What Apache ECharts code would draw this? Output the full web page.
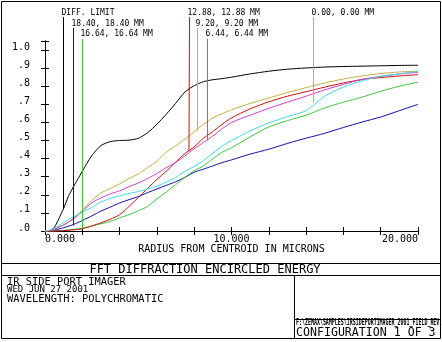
<!DOCTYPE html>
<html><head><meta charset="utf-8">
<script src="https://cdn.jsdelivr.net/npm/echarts@6/dist/echarts.min.js"></script>
<style>html,body{margin:0;padding:0;background:#fff}#c{width:442px;height:342px}</style>
</head><body><div id="c"></div>
<script>
const radius = [0, 0.25, 0.5, 0.75, 1, 1.25, 1.5, 1.75, 2, 2.5, 3, 3.5, 4, 4.5, 5, 5.5, 6, 6.5, 7, 7.5, 8, 8.5, 9, 9.5, 10, 11, 12, 13, 14, 15, 16, 17, 18, 19, 20];
const diffLimit = [0, 0.002, 0.02, 0.07, 0.125, 0.19, 0.24, 0.285, 0.33, 0.415, 0.472, 0.494, 0.5, 0.502, 0.512, 0.543, 0.59, 0.645, 0.705, 0.768, 0.803, 0.825, 0.836, 0.842, 0.85, 0.868, 0.883, 0.894, 0.901, 0.906, 0.909, 0.911, 0.913, 0.915, 0.916];
const field1840 = [0, 0.001, 0.005, 0.011, 0.018, 0.026, 0.035, 0.046, 0.058, 0.083, 0.11, 0.132, 0.155, 0.173, 0.19, 0.212, 0.232, 0.252, 0.272, 0.296, 0.325, 0.342, 0.36, 0.378, 0.393, 0.425, 0.452, 0.484, 0.513, 0.54, 0.572, 0.602, 0.63, 0.665, 0.70];
const field1664 = [0, 0, 0.001, 0.002, 0.004, 0.006, 0.009, 0.012, 0.015, 0.027, 0.04, 0.053, 0.073, 0.09, 0.112, 0.135, 0.178, 0.215, 0.256, 0.297, 0.333, 0.36, 0.4, 0.435, 0.46, 0.52, 0.575, 0.61, 0.64, 0.68, 0.712, 0.74, 0.772, 0.8, 0.822];
const field1288 = [0, 0, 0, 0.001, 0.002, 0.004, 0.006, 0.009, 0.012, 0.028, 0.045, 0.065, 0.09, 0.135, 0.185, 0.235, 0.285, 0.33, 0.38, 0.428, 0.465, 0.513, 0.55, 0.59, 0.625, 0.675, 0.714, 0.745, 0.77, 0.795, 0.818, 0.837, 0.848, 0.857, 0.864];
const field920 = [0, 0.003, 0.01, 0.02, 0.035, 0.05, 0.07, 0.09, 0.115, 0.168, 0.21, 0.235, 0.26, 0.29, 0.315, 0.35, 0.385, 0.435, 0.47, 0.508, 0.548, 0.59, 0.625, 0.648, 0.67, 0.705, 0.735, 0.765, 0.792, 0.818, 0.84, 0.857, 0.87, 0.879, 0.883];
const field644 = [0, 0.003, 0.01, 0.022, 0.033, 0.048, 0.065, 0.085, 0.11, 0.155, 0.183, 0.205, 0.222, 0.245, 0.265, 0.29, 0.318, 0.35, 0.378, 0.415, 0.455, 0.49, 0.525, 0.565, 0.6, 0.64, 0.678, 0.712, 0.745, 0.78, 0.81, 0.838, 0.855, 0.868, 0.877];
const field000 = [0, 0.005, 0.015, 0.03, 0.047, 0.063, 0.077, 0.09, 0.104, 0.13, 0.16, 0.18, 0.194, 0.207, 0.218, 0.232, 0.248, 0.27, 0.295, 0.33, 0.357, 0.39, 0.43, 0.47, 0.5, 0.553, 0.597, 0.632, 0.665, 0.745, 0.795, 0.83, 0.855, 0.868, 0.883];

const seriesNames = ['DIFF. LIMIT', '18.40, 18.40 MM', '16.64, 16.64 MM', '12.88, 12.88 MM', '9.20, 9.20 MM', '6.44, 6.44 MM', '0.00, 0.00 MM'];
const seriesValues = [diffLimit, field1840, field1664, field1288, field920, field644, field000];
const seriesColors = ['#000000', '#1010a8', '#3cc83c', '#cc1010', '#c4b040', '#cc40cc', '#40dcdc'];
const markerRadius = [0.98, 1.52, 2.0, 7.72, 8.17, 8.70, 14.39];
const markerValue = [0.12, 0.03, 0.015, 0.44, 0.555, 0.5, 0.71];
const markerRow = [0, 1, 2, 0, 1, 2, 0];

const xTickLabels = {0: '0.000', 10: '10.000', 20: '20.000'};
const titleText = 'FFT DIFFRACTION ENCIRCLED ENERGY';
const infoLines = ['IR SIDE PORT IMAGER', 'WED JUN 27 2001', 'WAVELENGTH: POLYCHROMATIC'];
const fileText = 'F:\\ZEMAX\\SAMPLES\\IRSIDEPORTIMAGER_2001_FIELD_REV.ZMX';
const configText = 'CONFIGURATION 1 OF 3';

const FONT = 'DejaVu Sans Mono';
const chart = echarts.init(document.getElementById('c'), null, {renderer: 'canvas'});

const axisCommon = {
  axisLine: {show: true, lineStyle: {color: '#000', width: 1}},
  axisTick: {show: true, inside: true, length: 4, lineStyle: {color: '#000', width: 1}},
  splitLine: {show: false}
};

const rowTextY = [12.5, 23.5, 33.5];
const rowLineTop = [17, 28, 39];

function buildSeries(markerPx) {
  return seriesValues.map((vals, i) => ({
    name: seriesNames[i],
    type: 'line',
    data: radius.map((r, k) => [r, vals[k]]),
    showSymbol: false,
    smooth: 0.25,
    clip: false,
    lineStyle: {color: seriesColors[i], width: 1},
    itemStyle: {color: seriesColors[i]},
    emphasis: {disabled: true},
    markLine: markerPx ? {
      silent: true, symbol: ['none', 'none'], animation: false,
      label: {show: false},
      emphasis: {disabled: true},
      lineStyle: {color: seriesColors[i], width: 1, type: 'solid', opacity: 1},
      data: [[
        {coord: [markerRadius[i], markerValue[i]]},
        {x: markerPx[i], y: rowLineTop[markerRow[i]]}
      ]]
    } : undefined
  }));
}

chart.setOption({
  animation: false,
  backgroundColor: '#fff',
  grid: {left: 45, right: 24, top: 41, bottom: 111, containLabel: false, outerBoundsMode: 'none', show: false},
  xAxis: [
    Object.assign({}, axisCommon, {
      type: 'value', position: 'bottom', min: 0, max: 20, interval: 2,
      name: 'RADIUS FROM CENTROID IN MICRONS', nameLocation: 'middle', nameGap: 13, nameMoveOverlap: false,
      nameTextStyle: {fontFamily: FONT, fontSize: 10, color: '#000', lineHeight: 10, verticalAlign: 'top'},
      axisLabel: {
        show: true, margin: 3, fontFamily: FONT, fontSize: 10, lineHeight: 10, color: '#000',
        alignMinLabel: 'left', alignMaxLabel: 'right',
        showMinLabel: true, showMaxLabel: true,
        formatter: v => (xTickLabels[Math.round(v)] !== undefined && Math.abs(v - Math.round(v)) < 1e-6) ? xTickLabels[Math.round(v)] : ''
      }
    }),
    Object.assign({}, axisCommon, {
      type: 'value', position: 'top', min: 0, max: 20, interval: 2,
      axisLabel: {show: false}
    })
  ],
  yAxis: [
    Object.assign({}, axisCommon, {
      type: 'value', position: 'left', min: 0, max: 1.05, interval: 0.1,
      name: 'FRACTION OF ENCLOSED ENERGY', nameLocation: 'middle', nameGap: 33, nameRotate: 90,
      nameTextStyle: {fontFamily: FONT, fontSize: 10, color: '#000'},
      axisLabel: {
        show: true, margin: 15, fontFamily: FONT, fontSize: 10, color: '#000',
        verticalAlign: 'bottom', lineHeight: 6,
        formatter: v => v > 1.001 ? '' : (v >= 0.999 ? '1.0' : '.' + Math.round(v * 10))
      }
    }),
    Object.assign({}, axisCommon, {
      type: 'value', position: 'right', min: 0, max: 1.05, interval: 0.1,
      axisLabel: {show: false}
    })
  ],
  series: buildSeries(null)
});

const markerPx = markerRadius.map(r => Math.round(chart.convertToPixel({gridIndex: 0}, [r, 0])[0]) + 0.5);

const graphics = [];
markerRadius.forEach((r, i) => {
  graphics.push({
    type: 'text', silent: true, z: 10,
    x: markerPx[i] - 2, y: rowTextY[markerRow[i]],
    style: {text: seriesNames[i], fill: '#000', font: '8px "' + FONT + '"', textAlign: 'left', textVerticalAlign: 'middle'}
  });
});

// page frame and info boxes
const L = (x1, y1, x2, y2) => ({type: 'line', silent: true, shape: {x1, y1, x2, y2}, style: {stroke: '#000', lineWidth: 1}});
graphics.push({type: 'rect', silent: true, shape: {x: 1.5, y: 1.5, width: 439, height: 337}, style: {fill: null, stroke: '#000', lineWidth: 1}});
graphics.push(L(1.5, 263.5, 440.5, 263.5));
graphics.push(L(1.5, 275.5, 440.5, 275.5));
graphics.push(L(294.5, 275.5, 294.5, 338.5));
graphics.push(L(294.5, 319.5, 440.5, 319.5));
graphics.push({type: 'text', silent: true, x: 205, y: 270, style: {text: titleText, fill: '#000', font: '12px "' + FONT + '"', textAlign: 'center', textVerticalAlign: 'middle'}});
const infoY = [282.5, 290, 299];
const infoSize = [10.4, 9, 10.4];
infoLines.forEach((t, i) => {
  graphics.push({type: 'text', silent: true, x: 7, y: infoY[i], style: {text: t, fill: '#000', font: infoSize[i] + 'px "' + FONT + '"', textAlign: 'left', textVerticalAlign: 'middle'}});
});
graphics.push({type: 'text', silent: true, x: 296, y: 323, scaleX: 0.62, style: {text: fileText, fill: '#000', font: 'bold 8px "' + FONT + '"', textAlign: 'left', textVerticalAlign: 'middle'}});
graphics.push({type: 'text', silent: true, x: 296, y: 332.5, style: {text: configText, fill: '#000', font: '11.6px "' + FONT + '"', textAlign: 'left', textVerticalAlign: 'middle'}});

chart.setOption({series: buildSeries(markerPx), graphic: {elements: graphics}});
</script></body></html>
